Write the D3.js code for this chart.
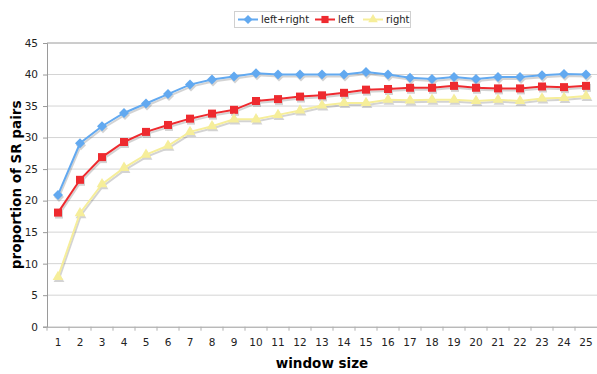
<!DOCTYPE html>
<html><head><meta charset="utf-8">
<script src="https://cdn.jsdelivr.net/npm/d3@7"></script>
<style>body{margin:0;background:#fff}svg{display:block}text{font-family:"DejaVu Sans",Verdana,sans-serif}</style>
</head><body><svg id="c" width="597" height="374"></svg>
<script>
const categories = d3.range(1, 26).map(String);
const leftRight = [20.9,29.1,31.8,33.9,35.4,36.9,38.4,39.2,39.7,40.2,40.0,40.0,40.0,40.0,40.4,40.0,39.5,39.3,39.6,39.3,39.6,39.6,39.9,40.1,40.0];
const left = [18.1,23.3,26.9,29.3,30.9,32.0,33.0,33.8,34.4,35.8,36.1,36.5,36.7,37.1,37.6,37.7,37.9,37.9,38.2,37.9,37.8,37.8,38.1,38.0,38.2];
const right = [7.9,18.0,22.6,25.2,27.3,28.7,30.9,31.8,32.9,32.9,33.6,34.3,35.1,35.5,35.5,36.0,35.9,36.0,36.0,35.8,36.0,35.8,36.2,36.3,36.6];
const yTicks = [0,5,10,15,20,25,30,35,40,45];
const seriesNames = ["left+right","left","right"];

const diamond = d3.symbolDiamond2 || d3.symbolDiamond;
const series = [
  {name: seriesNames[0], values: leftRight, color: "#62a9f0", shape: diamond, size: 64},
  {name: seriesNames[1], values: left, color: "#ee2a2f", shape: d3.symbolSquare, size: 64},
  {name: seriesNames[2], values: right, color: "#f6ee9a", shape: d3.symbolTriangle, size: 50}
];

const svg = d3.select("#c");
const m = {l: 47, r: 597, t: 43, b: 326.7};
const x = d3.scaleBand().domain(categories).range([m.l, m.r]);
const y = d3.scaleLinear().domain([0, 45]).range([m.b, m.t]);

// gridlines
svg.append("g").selectAll("line").data(yTicks.filter(t => t > 0)).join("line")
  .attr("x1", m.l).attr("x2", m.r).attr("y1", d => y(d)).attr("y2", d => y(d))
  .attr("stroke", d => d === 45 ? "#9a9a9a" : "#d4d4d4").attr("stroke-width", 1);

// y axis
const ya = svg.append("g").attr("transform", `translate(${m.l},0)`)
  .call(d3.axisLeft(y).tickValues(yTicks).tickSize(4).tickPadding(5));
ya.select(".domain").attr("stroke", "#9a9a9a");
ya.selectAll(".tick line").attr("stroke", "#9a9a9a");
ya.selectAll("text").attr("font-size", 10.5).attr("fill", "#222");

// x axis
const xa = svg.append("g").attr("transform", `translate(0,${m.b})`)
  .call(d3.axisBottom(x).tickSize(0).tickPadding(12));
xa.select(".domain").attr("stroke", "#9a9a9a").attr("d", `M${m.l},0.5H${m.r}`);
xa.selectAll("text").attr("font-size", 10.5).attr("fill", "#222");
xa.append("g").selectAll("line").data(categories).join("line")
  .attr("x1", d => x(d)).attr("x2", d => x(d)).attr("y1", 0).attr("y2", 4)
  .attr("stroke", "#b0b0b0");

// titles
svg.append("text").attr("x", (m.l + m.r) / 2).attr("y", 368).attr("text-anchor", "middle")
  .attr("font-size", 13.5).attr("font-weight", "bold").text("window size");
svg.append("text").attr("transform", `translate(21,${(m.t + m.b) / 2}) rotate(-90)`)
  .attr("text-anchor", "middle").attr("font-size", 13.5).attr("font-weight", "bold")
  .text("proportion of SR pairs");

const line = d3.line().x((d, i) => x(categories[i]) + x.bandwidth() / 2).y(d => y(d));

// shadows
series.forEach(s => {
  const g = svg.append("g").attr("transform", "translate(1,2)").attr("opacity", 0.25);
  g.append("path").datum(s.values).attr("d", line).attr("fill", "none").attr("stroke", "#555").attr("stroke-width", 2);
  g.selectAll("path.m").data(s.values).join("path").attr("class", "m")
    .attr("transform", (d, i) => `translate(${x(categories[i]) + x.bandwidth() / 2},${y(d)})`)
    .attr("d", d3.symbol().type(s.shape).size(s.size)).attr("fill", "#555");
});
series.forEach(s => {
  svg.append("path").datum(s.values).attr("d", line).attr("fill", "none")
    .attr("stroke", s.color).attr("stroke-width", 2);
  svg.append("g").selectAll("path").data(s.values).join("path")
    .attr("transform", (d, i) => `translate(${x(categories[i]) + x.bandwidth() / 2},${y(d)})`)
    .attr("d", d3.symbol().type(s.shape).size(s.size)).attr("fill", s.color);
});

// legend
const lg = svg.append("g");
lg.append("rect").attr("x", 234.5).attr("y", 11.5).attr("width", 176).attr("height", 16)
  .attr("fill", "#fff").attr("stroke", "#d0d0d0");
const lx = [238, 315, 363];
series.forEach((s, i) => {
  const g = lg.append("g").attr("transform", `translate(${lx[i]},19.5)`);
  g.append("line").attr("x1", 0).attr("x2", 20).attr("stroke", s.color).attr("stroke-width", 2);
  g.append("path").attr("transform", "translate(10,0)")
    .attr("d", d3.symbol().type(s.shape).size(s.size * 0.8)).attr("fill", s.color);
  g.append("text").attr("x", 23).attr("y", 3.5).attr("font-size", 10).attr("fill", "#222").text(s.name);
});
</script></body></html>
